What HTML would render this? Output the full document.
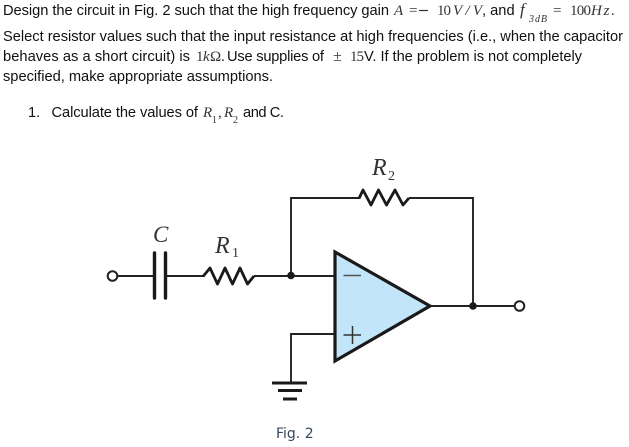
<!DOCTYPE html>
<html><head><meta charset="utf-8"><style>
html,body{margin:0;padding:0;background:#fff}
svg{display:block}
.t{font-family:"Liberation Sans",sans-serif;font-size:14.67px;fill:#111}
.m{font-family:"Liberation Serif",serif;font-size:15px;fill:#333}
.i{font-style:italic}
.c{font-family:"Liberation Serif",serif;fill:#333;font-style:italic;font-size:24px}
.w{fill:none;stroke:#222;stroke-width:1.900}
</style></head><body>
<svg width="629" height="447" viewBox="0 0 629 447" xmlns="http://www.w3.org/2000/svg">
<text class="t" x="3" y="15" textLength="386">Design the circuit in Fig. 2 such that the high frequency gain</text>
<text class="m i" x="394" y="15">A</text><text class="m" x="409" y="15">=</text><path d="M419 10.500H428" stroke="#333" stroke-width="1.200"/>
<text class="m" x="437" y="15" textLength="14">10</text><text class="m i" x="453" y="15" textLength="29">V/V</text>
<text class="t" x="482" y="15">, and</text>
<text class="m i" x="520" y="15" style="font-size:17px">f</text><text class="m i" x="529" y="22" style="font-size:10px" textLength="18">3dB</text>
<text class="m" x="553" y="15">=</text><text class="m" x="570" y="15" textLength="21">100</text><text class="m i" x="591" y="15" textLength="24">Hz.</text>
<text class="t" x="3" y="41" textLength="620">Select resistor values such that the input resistance at high frequencies (i.e., when the capacitor</text>
<text class="t" x="3" y="61" textLength="187">behaves as a short circuit) is</text>
<text class="m" x="196" y="61">1</text><text class="m i" x="203" y="61">k</text><text class="m" x="210" y="61">Ω.</text>
<text class="t" x="227" y="61" textLength="97">Use supplies of</text>
<text class="m" x="333" y="61" style="font-size:16px">±</text><text class="m" x="350" y="61" textLength="14">15</text>
<text class="t" x="364" y="61" textLength="218">V. If the problem is not completely</text>
<text class="t" x="3" y="81" textLength="270">specified, make appropriate assumptions.</text>
<text class="t" x="28" y="117">1.</text>
<text class="t" x="51.500" y="117" textLength="146.500">Calculate the values of</text>
<text class="m i" x="203" y="117" style="font-size:15px">R</text><text class="m" x="212" y="123" style="font-size:10px">1</text>
<text class="m" x="218" y="117">,</text>
<text class="m i" x="224" y="117" style="font-size:15px">R</text><text class="m" x="233" y="123" style="font-size:10px">2</text>
<text class="t" x="243" y="117" textLength="41">and C.</text>

<path class="w" d="M117 276H154M166 276H203.500M254 276H335M291 276V198H359.500M409 198H473V306M430 306H514.500M335 334H291V383"/>
<path d="M203 276.500L210 268 217.500 284 225 268 232.500 284 240 268 247.500 284 254 276" fill="none" stroke="#1a1a1a" stroke-width="2.800" stroke-linejoin="round"/>
<path d="M359 198.500L363 190 371 205 378.500 190 386.500 205 395 190 403 205 409 198" fill="none" stroke="#1a1a1a" stroke-width="2.800" stroke-linejoin="round"/>
<path d="M154.500 253V298M165.500 253V298" stroke="#1a1a1a" stroke-width="3.400" stroke-linecap="round"/>
<circle cx="112.500" cy="276" r="4.800" fill="#fff" stroke="#222" stroke-width="2"/>
<circle cx="519.500" cy="306" r="4.800" fill="#fff" stroke="#222" stroke-width="2"/>
<circle cx="291" cy="275.500" r="3.800" fill="#1a1a1a"/>
<circle cx="473" cy="306" r="3.800" fill="#1a1a1a"/>
<path d="M335 252L430 306L335 361Z" fill="#c3e5f9" stroke="#1a1a1a" stroke-width="3.200" stroke-linejoin="miter"/>
<path d="M343.500 275.500H361" stroke="#555" stroke-width="1.500"/>
<path d="M343.500 335H361M352.500 326V344" stroke="#333" stroke-width="1.500"/>
<path d="M272 383H307M278 390.500H302M283 399H297" stroke="#1a1a1a" stroke-width="3"/>
<text class="c" x="153" y="242" style="font-size:23px">C</text>
<text class="c" x="215" y="253">R</text><text class="m" x="232" y="257" style="font-size:14px">1</text>
<text class="c" x="372" y="175">R</text><text class="m" x="388" y="180" style="font-size:14px">2</text>
<text x="276" y="438" style="font-family:'DejaVu Sans','Liberation Sans',sans-serif;font-size:14px;fill:#34495e">Fig. 2</text>
</svg>
</body></html>
